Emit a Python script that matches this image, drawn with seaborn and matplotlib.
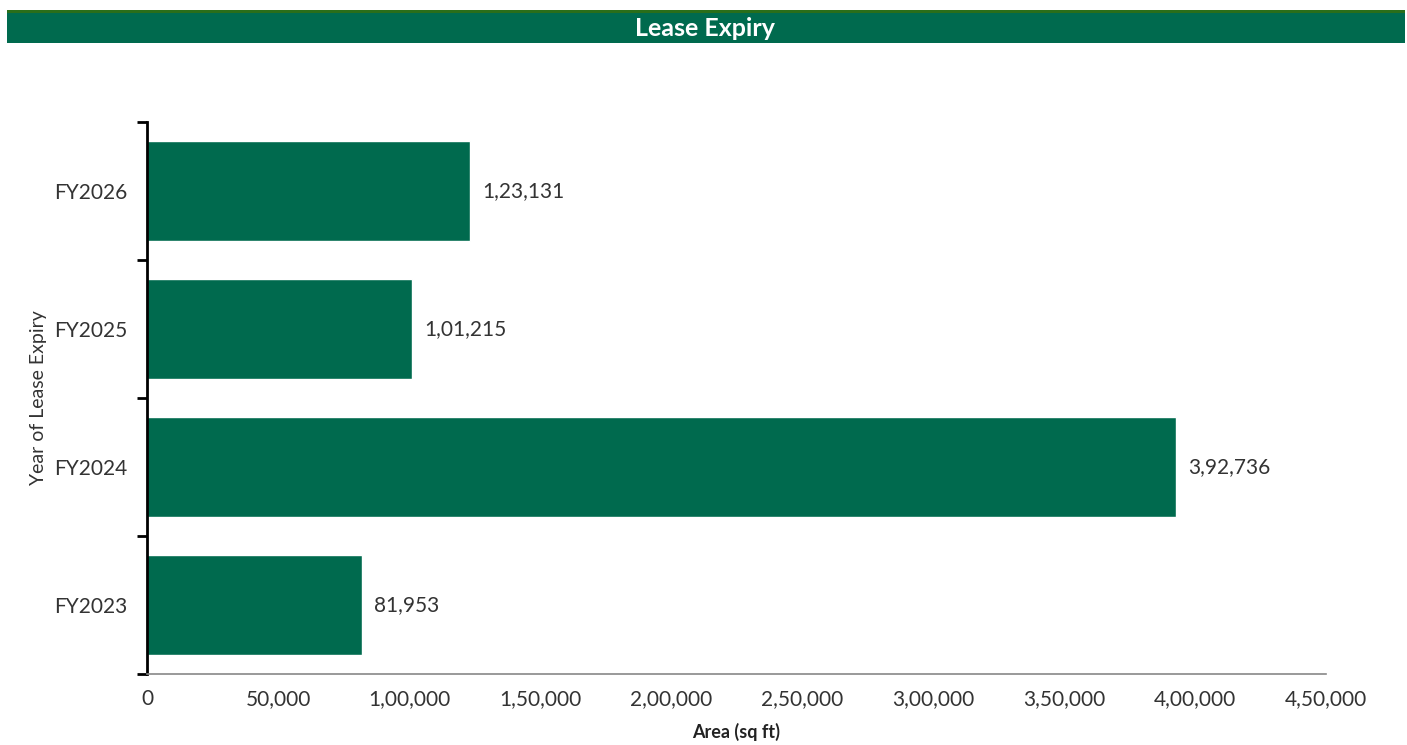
import matplotlib
matplotlib.use("Agg")
import matplotlib.pyplot as plt
import seaborn as sns
import pandas as pd
from matplotlib.patches import Rectangle
from matplotlib.ticker import FuncFormatter, FixedLocator

categories = ["FY2026", "FY2025", "FY2024", "FY2023"]
areas = [123131, 101215, 392736, 81953]
x_ticks = [0, 50000, 100000, 150000, 200000, 250000, 300000, 350000, 400000, 450000]

def indian(v):
    v = int(round(v))
    s = str(abs(v))
    if len(s) > 3:
        head, tail = s[:-3], s[-3:]
        parts = []
        while len(head) > 2:
            parts.insert(0, head[-2:])
            head = head[:-2]
        if head:
            parts.insert(0, head)
        s = ",".join(parts) + "," + tail
    return ("-" if v < 0 else "") + s

sns.set_theme(style="white")
plt.rcParams['font.family'] = ['Lato', 'DejaVu Sans']

W, H = 1407, 745
fig = plt.figure(figsize=(W / 100, H / 100), dpi=100)
ax = fig.add_axes([147 / W, 1 - 674 / H, (1326 - 147) / W, (674 - 122) / H])

df = pd.DataFrame({"Year": categories, "Area": areas})
green = "#006a4e"
sns.barplot(data=df, y="Year", x="Area", order=categories, color=green,
            width=0.72, saturation=1, ax=ax, orient="h")

ax.set_xlim(0, 450000)
ax.set_ylim(3.5, -0.5)
ax.xaxis.set_major_locator(FixedLocator(x_ticks))
ax.xaxis.set_major_formatter(FuncFormatter(lambda v, p: indian(v)))

for c in ax.containers:
    ax.bar_label(c, labels=[indian(v) for v in areas], padding=9,
                 fontsize=15, color="#333333")

for s in ["top", "right"]:
    ax.spines[s].set_visible(False)
ax.spines["left"].set_color("black")
ax.spines["left"].set_linewidth(2)
ax.spines["bottom"].set_color("#888888")
ax.spines["bottom"].set_linewidth(1.2)

ax.tick_params(axis="x", direction="in", length=8, width=1, color="#888888",
               labelsize=15, labelcolor="#333333", pad=11)
ax.tick_params(axis="y", which="major", length=0, labelsize=15,
               labelcolor="#333333", pad=14)
ax.set_yticks([-0.5, 0.5, 1.5, 2.5, 3.5], minor=True)
ax.tick_params(axis="y", which="minor", direction="out", length=7, width=2,
               color="black", left=True)

ax.set_xlabel("Area (sq ft)", fontsize=13, fontweight="bold", color="#222222", labelpad=10)
ax.set_ylabel("Year of Lease Expiry", fontsize=14, color="#333333", labelpad=5)

# title band
fig.patches.append(Rectangle((7 / W, 1 - 43 / H), (1405 - 7) / W, 33 / H,
                             transform=fig.transFigure, facecolor="#006a4e",
                             edgecolor="none", zorder=0))
fig.patches.append(Rectangle((7 / W, 1 - 13 / H), (1405 - 7) / W, 3 / H,
                             transform=fig.transFigure, facecolor="#2a6e1a",
                             edgecolor="none", zorder=1))
fig.text(705 / W, 1 - 29 / H, "Lease Expiry", ha="center", va="center",
         fontsize=18, fontweight="bold", color="white")

fig.savefig("out.png", dpi=100)
